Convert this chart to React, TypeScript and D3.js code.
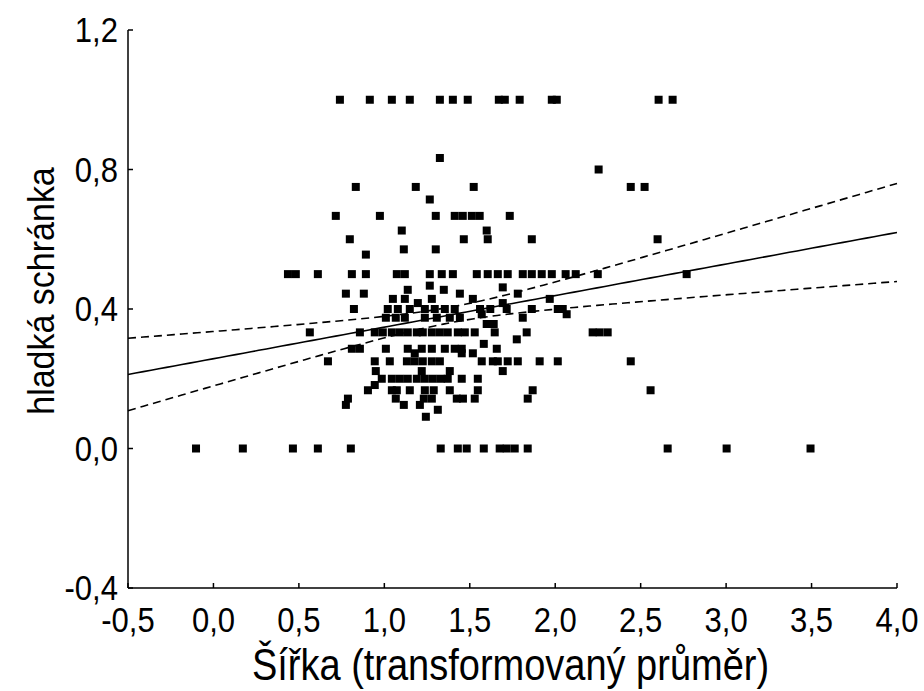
import React from "react";
import * as d3 from "d3";

// ---- data ----
const xValues: number[] = [
  // y = 1.0
  0.74, 0.915, 1.044, 1.149, 1.325, 1.401, 1.488, 1.67, 1.705, 1.792, 1.98, 2.009, 2.605, 2.687,
  // 0.833, 0.8
  1.325, 2.254,
  // 0.75
  0.833, 1.184, 1.523, 2.442, 2.523,
  // 0.714
  1.266,
  // 0.667
  0.716, 0.974, 1.301, 1.412, 1.459, 1.512, 1.558, 1.734,
  // 0.625
  1.102, 1.599,
  // 0.6
  0.798, 1.465, 1.605, 1.863, 2.599,
  // 0.571, 0.556
  1.114, 1.301, 0.892,
  // 0.5
  0.436, 0.482, 0.611, 0.81, 0.892, 1.073, 1.12, 1.266, 1.336, 1.401, 1.541, 1.605, 1.664, 1.722,
  1.81, 1.863, 1.921, 1.98, 2.061, 2.12, 2.249, 2.769,
  // ~0.46
  1.137, 1.266, 1.348, 1.693,
  // 0.444
  0.775, 0.88, 1.442, 1.781,
  // 0.429
  1.05, 1.12, 1.278, 1.518, 1.968,
  // 0.417
  1.196, 1.693,
  // 0.4
  0.822, 1.02, 1.079, 1.149, 1.237, 1.295, 1.354, 1.412, 1.716, 1.863, 2.015, 2.044, 1.56, 1.62,
  // 0.385
  2.067, 1.57,
  // 0.375
  1.009, 1.067, 1.12, 1.237, 1.307, 1.383, 1.442, 1.81,
  // 0.357
  1.599, 1.64,
  // 0.333
  0.564, 0.857, 0.944, 0.991, 1.044, 1.091, 1.137, 1.19, 1.225, 1.278, 1.325, 1.371, 1.43, 1.471,
  1.529, 1.646, 1.833, 2.219, 2.26, 2.307,
  // 0.313, 0.3
  1.775, 1.582,
  // 0.286
  0.81, 0.857, 1.009, 1.137, 1.219, 1.278, 1.354, 1.412, 1.453, 1.658,
  // 0.273
  1.178, 1.453, 1.518,
  // 0.25
  0.67, 0.944, 1.032, 1.132, 1.178, 1.225, 1.278, 1.325, 1.57, 1.635, 1.664, 1.722, 1.781, 1.909,
  2.015, 2.442,
  // 0.222
  0.95, 1.219, 1.383, 1.693,
  // 0.2
  0.985, 1.044, 1.091, 1.137, 1.19, 1.237, 1.284, 1.33, 1.371, 1.453, 1.547,
  // 0.182
  0.944,
  // 0.167
  0.904, 1.044, 1.073, 1.149, 1.237, 1.289, 1.383, 1.547, 1.868, 2.558,
  // 0.143
  0.787, 1.067, 1.231, 1.278, 1.424, 1.46, 1.529, 1.839,
  // 0.125, 0.111, 0.091
  0.775, 1.114, 1.208, 1.313, 1.243,
  // 0.0
  -0.102, 0.172, 0.465, 0.611, 0.804, 1.33, 1.43, 1.482, 1.582, 1.675, 1.716, 1.763, 1.839, 2.658,
  3.003, 3.494,
];

const yValues: number[] = [
  1, 1, 1, 1, 1, 1, 1, 1, 1, 1, 1, 1, 1, 1,
  0.833, 0.8,
  0.75, 0.75, 0.75, 0.75, 0.75,
  0.714,
  0.667, 0.667, 0.667, 0.667, 0.667, 0.667, 0.667, 0.667,
  0.625, 0.625,
  0.6, 0.6, 0.6, 0.6, 0.6,
  0.571, 0.571, 0.556,
  0.5, 0.5, 0.5, 0.5, 0.5, 0.5, 0.5, 0.5, 0.5, 0.5, 0.5, 0.5, 0.5, 0.5,
  0.5, 0.5, 0.5, 0.5, 0.5, 0.5, 0.5, 0.5,
  0.455, 0.467, 0.455, 0.462,
  0.444, 0.444, 0.444, 0.444,
  0.429, 0.429, 0.429, 0.429, 0.429,
  0.417, 0.417,
  0.4, 0.4, 0.4, 0.4, 0.4, 0.4, 0.4, 0.4, 0.4, 0.4, 0.4, 0.4, 0.4, 0.4,
  0.385, 0.385,
  0.375, 0.375, 0.375, 0.375, 0.375, 0.375, 0.375, 0.375,
  0.357, 0.357,
  0.333, 0.333, 0.333, 0.333, 0.333, 0.333, 0.333, 0.333, 0.333, 0.333, 0.333, 0.333, 0.333, 0.333,
  0.333, 0.333, 0.333, 0.333, 0.333, 0.333,
  0.313, 0.3,
  0.286, 0.286, 0.286, 0.286, 0.286, 0.286, 0.286, 0.286, 0.286, 0.286,
  0.273, 0.273, 0.273,
  0.25, 0.25, 0.25, 0.25, 0.25, 0.25, 0.25, 0.25, 0.25, 0.25, 0.25, 0.25, 0.25, 0.25,
  0.25, 0.25,
  0.222, 0.222, 0.222, 0.222,
  0.2, 0.2, 0.2, 0.2, 0.2, 0.2, 0.2, 0.2, 0.2, 0.2, 0.2,
  0.182,
  0.167, 0.167, 0.167, 0.167, 0.167, 0.167, 0.167, 0.167, 0.167, 0.167,
  0.143, 0.143, 0.143, 0.143, 0.143, 0.143, 0.143, 0.143,
  0.125, 0.125, 0.125, 0.111, 0.091,
  0, 0, 0, 0, 0, 0, 0, 0, 0, 0, 0, 0, 0, 0,
  0, 0,
];

// fitted regression and its 95% confidence band
const regIntercept = 0.2575;
const regSlope = 0.0905;
const ciMeanX = 1.4;
const ciA = 0.0005;
const ciB = 0.00285;

const xTicks: number[] = [-0.5, 0, 0.5, 1, 1.5, 2, 2.5, 3, 3.5, 4];
const yTicks: number[] = [-0.4, 0, 0.4, 0.8, 1.2];
const xTitle = "Šířka (transformovaný průměr)";
const yTitle = "hladká schránka";

const fmt = (v: number) => (v < 0 ? "-" : "") + Math.abs(v).toFixed(1).replace(".", ",");

export default function App() {
  const W = 924;
  const H = 691;
  const left = 128, right = 897, top = 30, bottom = 588;
  const x = d3.scaleLinear().domain([-0.5, 4]).range([left, right]);
  const y = d3.scaleLinear().domain([-0.4, 1.2]).range([bottom, top]);

  const fitX = d3.range(0, 101).map((i) => -0.5 + (4.5 * i) / 100);
  const fit = (v: number) => regIntercept + regSlope * v;
  const half = (v: number) => Math.sqrt(ciA + ciB * (v - ciMeanX) ** 2);
  const line = d3
    .line<[number, number]>()
    .x((d) => x(d[0]))
    .y((d) => y(d[1]));
  const mainPath = line(fitX.map((v) => [v, fit(v)]))!;
  const upPath = line(fitX.map((v) => [v, fit(v) + half(v)]))!;
  const loPath = line(fitX.map((v) => [v, fit(v) - half(v)]))!;

  const ms = 8;
  const font = "'Liberation Sans', Arial, sans-serif";
  const tickFs = 32;

  return (
    <svg
      width={W}
      height={H}
      style={{ position: "absolute", left: 0, top: 0, background: "#fff" }}
      fontFamily={font}
    >
      <rect width={W} height={H} fill="#fff" />
      {xValues.map((xv, i) => (
        <rect
          key={i}
          x={x(xv) - ms / 2}
          y={y(yValues[i]) - ms / 2}
          width={ms}
          height={ms}
          fill="#000"
        />
      ))}
      <path d={mainPath} fill="none" stroke="#000" strokeWidth={1.6} />
      <path d={upPath} fill="none" stroke="#000" strokeWidth={1.6} strokeDasharray="8,5" />
      <path d={loPath} fill="none" stroke="#000" strokeWidth={1.6} strokeDasharray="8,5" />

      {/* axes */}
      <line x1={left} x2={left} y1={top} y2={bottom} stroke="#000" strokeWidth={1.5} />
      <line x1={left} x2={right} y1={bottom} y2={bottom} stroke="#000" strokeWidth={1.5} />
      {yTicks.map((t) => (
        <g key={"y" + t}>
          <line x1={left} x2={left + 5} y1={y(t)} y2={y(t)} stroke="#000" strokeWidth={1.5} />
          <text
            transform={`translate(${left - 10}, ${y(t) + 12}) scale(0.97, 1.12)`}
            textAnchor="end"
            fontSize={tickFs}
          >
            {fmt(t)}
          </text>
        </g>
      ))}
      {xTicks.map((t) => (
        <g key={"x" + t}>
          <line x1={x(t)} x2={x(t)} y1={bottom} y2={bottom - 5} stroke="#000" strokeWidth={1.5} />
          <text
            transform={`translate(${x(t)}, ${bottom + 44}) scale(0.97, 1.12)`}
            textAnchor="middle"
            fontSize={tickFs}
          >
            {fmt(t)}
          </text>
        </g>
      ))}
      <text
        transform={`translate(${(left + right) / 2 - 2}, 680) scale(0.95, 1.1)`}
        textAnchor="middle"
        fontSize={40}
      >
        {xTitle}
      </text>
      <text
        transform={`translate(54, 291) rotate(-90) scale(1, 1.1)`}
        textAnchor="middle"
        fontSize={34}
      >
        {yTitle}
      </text>
    </svg>
  );
}
